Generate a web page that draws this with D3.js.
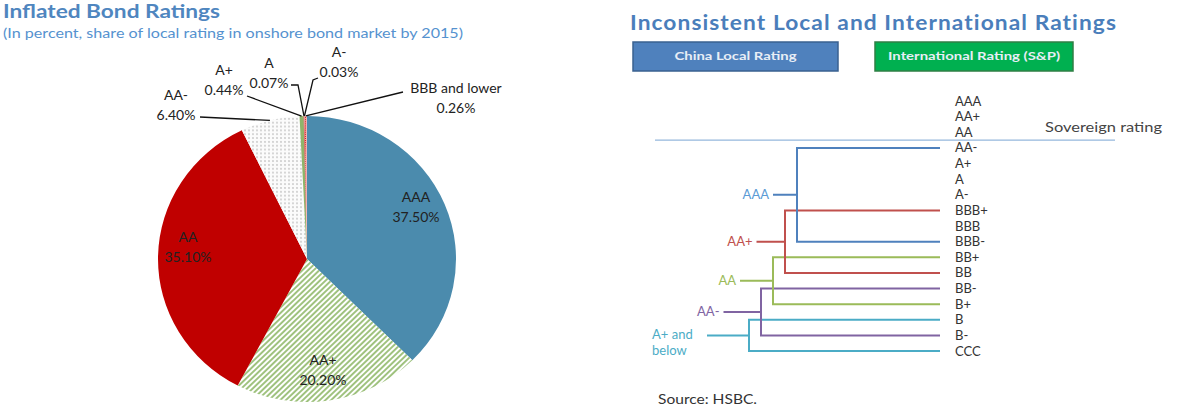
<!DOCTYPE html>
<html lang="en">
<head>
  <meta charset="UTF-8">
  <title>Inflated Bond Ratings / Inconsistent Ratings</title>
  <script src="https://d3js.org/d3.v7.min.js"></script>
  <style>
    body { margin: 0; background: #fff; font-family: Lato, "Open Sans", sans-serif; }
    svg text { font-family: Lato, "Open Sans", sans-serif; }
  </style>
</head>
<body>
  <div id="chart"></div>

  <script>
    // Pie data: share of local rating in onshore bond market (%)
    const pieNames = ['AAA', 'AA+', 'AA', 'AA-', 'A+', 'A', 'A-', 'BBB and lower'];
    const pieValues = [37.5, 20.2, 35.1, 6.4, 0.44, 0.07, 0.03, 0.26];
    const pieLabels = ['37.50%', '20.20%', '35.10%', '6.40%', '0.44%', '0.07%', '0.03%', '0.26%'];

    // Mapping chart data
    const intlRatings = ['AAA', 'AA+', 'AA', 'AA-', 'A+', 'A', 'A-', 'BBB+', 'BBB', 'BBB-',
                         'BB+', 'BB', 'BB-', 'B+', 'B', 'B-', 'CCC'];
    const localRatings = ['AAA', 'AA+', 'AA', 'AA-', 'A+ and below'];
    const mapHigh = ['AA-', 'BBB+', 'BB+', 'BB-', 'B'];
    const mapLow = ['BBB-', 'BB', 'B+', 'B-', 'CCC'];
    const sovereignRating = 'AA';

    const W = 1182, H = 410;
    const svg = d3.select('#chart').append('svg')
      .attr('width', W).attr('height', H);

    const defs = svg.append('defs');
    // diagonal green stripes
    const stripes = defs.append('pattern')
      .attr('id', 'stripes').attr('patternUnits', 'userSpaceOnUse')
      .attr('width', 4).attr('height', 4)
      .attr('patternTransform', 'rotate(45)');
    stripes.append('rect').attr('width', 4).attr('height', 4).attr('fill', '#fff');
    stripes.append('rect').attr('width', 2).attr('height', 4).attr('fill', '#9fc27e');
    // light dotted grid
    const dots = defs.append('pattern')
      .attr('id', 'dots').attr('patternUnits', 'userSpaceOnUse')
      .attr('width', 4).attr('height', 4);
    dots.append('rect').attr('width', 4).attr('height', 4).attr('fill', '#fbfbfb');
    dots.append('circle').attr('cx', 2).attr('cy', 2).attr('r', 0.9).attr('fill', '#c4c4c4');
    // red dots
    const rdots = defs.append('pattern')
      .attr('id', 'rdots').attr('patternUnits', 'userSpaceOnUse')
      .attr('width', 2).attr('height', 2);
    rdots.append('rect').attr('width', 2).attr('height', 2).attr('fill', '#f2b0b0');
    rdots.append('rect').attr('width', 1).attr('height', 1).attr('fill', '#d02020');

    const sliceFill = d3.scaleOrdinal()
      .domain(pieNames)
      .range(['#4b8bad', 'url(#stripes)', '#c00000', 'url(#dots)', '#8fb56a', '#d03030', '#d03030', 'url(#rdots)']);

    // ---------- Left: pie ----------
    svg.append('text')
      .attr('x', 3).attr('y', 18)
      .attr('textLength', 217).attr('lengthAdjust', 'spacingAndGlyphs')
      .style('font-size', '19px').style('font-weight', 'bold')
      .attr('fill', '#4f86bf')
      .text('Inflated Bond Ratings');
    svg.append('text')
      .attr('x', 3).attr('y', 38)
      .attr('textLength', 460).attr('lengthAdjust', 'spacingAndGlyphs')
      .style('font-size', '13.5px')
      .attr('fill', '#5592cf')
      .text('(In percent, share of local rating in onshore bond market by 2015)');

    const cx = 307, cy = 259, r = 149, sy = 0.96;
    const pie = d3.pie().sort(null).value(d => d)(pieValues);
    const arc = d3.arc().innerRadius(0).outerRadius(r);
    const edge = d3.arc().innerRadius(r).outerRadius(r);

    const pg = svg.append('g').attr('transform', `translate(${cx},${cy}) scale(1,${sy})`);
    pg.selectAll('path')
      .data(pie)
      .enter().append('path')
      .attr('d', arc)
      .attr('fill', (d, i) => sliceFill(pieNames[i]));

    const toScreen = p => [cx + p[0], cy + p[1] * sy];

    // label layout (text centres) for each slice
    const labelPos = {
      'AAA': [416, 202, 'in'],
      'AA+': [323, 365, 'in'],
      'AA': [188, 242, 'in'],
      'AA-': [176, 100, 'out', [[200, 117]]],
      'A+': [224, 75, 'out', [[247, 96]]],
      'A': [269, 68, 'out', [[291, 85], [298, 85]]],
      'A-': [339, 57, 'out', [[318, 78], [313, 80]]],
      'BBB and lower': [456, 93, 'out', [[403, 92]]]
    };

    pie.forEach((d, i) => {
      const name = pieNames[i];
      const lp = labelPos[name];
      const t = svg.append('text')
        .attr('x', lp[0]).attr('y', lp[1])
        .attr('text-anchor', 'middle')
        .attr('fill', '#222')
        .style('font-size', '14px');
      t.append('tspan').attr('x', lp[0]).attr('dy', 0).text(name);
      t.append('tspan').attr('x', lp[0]).attr('dy', 20).text(pieLabels[i]);
      if (lp[2] === 'out') {
        const end = toScreen(edge.centroid(d));
        const pts = lp[3].concat([end]);
        svg.append('path')
          .attr('d', d3.line()(pts))
          .attr('fill', 'none')
          .attr('stroke', '#111')
          .attr('stroke-width', 1.3);
      }
    });

    // ---------- Right: rating mapping ----------
    svg.append('text')
      .attr('x', 630).attr('y', 30)
      .attr('textLength', 487).attr('lengthAdjust', 'spacingAndGlyphs')
      .style('font-size', '21px').style('font-weight', 'bold')
      .style('letter-spacing', '1px')
      .attr('fill', '#4a7ebb')
      .text('Inconsistent Local and International Ratings');

    const boxes = [
      { label: 'China Local Rating', x0: 633, x1: 838, fill: '#4f81bd', stroke: '#3a6190', tl: 122 },
      { label: 'International Rating (S&P)', x0: 875, x1: 1073, fill: '#00b050', stroke: '#2f7f44', tl: 172 }
    ];
    boxes.forEach(b => {
      svg.append('rect')
        .attr('x', b.x0).attr('y', 42).attr('width', b.x1 - b.x0).attr('height', 29)
        .attr('fill', b.fill).attr('stroke', b.stroke).attr('stroke-width', 1.5);
      svg.append('text')
        .attr('x', (b.x0 + b.x1) / 2).attr('y', 60)
        .attr('text-anchor', 'middle')
        .attr('textLength', b.tl).attr('lengthAdjust', 'spacingAndGlyphs')
        .style('font-size', '12px').style('font-weight', 'bold')
        .attr('fill', '#e8eef6')
        .text(b.label);
    });

    const y = d3.scalePoint().domain(intlRatings).range([101, 351]);
    const vx = d3.scalePoint().domain(localRatings).range([797, 749]);
    const stubX = d3.scalePoint().domain(localRatings).range([773, 707]);
    const lineEnd = 940;
    const lineColor = d3.scaleOrdinal().domain(localRatings)
      .range(['#4f81bd', '#c0504d', '#9bbb59', '#8064a2', '#4bacc6']);
    const textColor = d3.scaleOrdinal().domain(localRatings)
      .range(['#5b9bd5', '#c0504d', '#9bbb59', '#8064a2', '#4bacc6']);

    // international rating labels
    svg.selectAll('.intl')
      .data(intlRatings)
      .enter().append('text')
      .attr('class', 'intl')
      .attr('x', 955).attr('y', d => y(d))
      .attr('dy', '0.35em')
      .attr('fill', '#333')
      .style('font-size', '13px')
      .text(d => d);

    // sovereign line
    const sovY = y(sovereignRating) + y.step() / 2;
    svg.append('line')
      .attr('x1', 655).attr('x2', 1115)
      .attr('y1', sovY).attr('y2', sovY)
      .attr('stroke', '#95b7dc').attr('stroke-width', 1.2);
    svg.append('text')
      .attr('x', 1045).attr('y', sovY - 8)
      .attr('textLength', 117).attr('lengthAdjust', 'spacingAndGlyphs')
      .attr('fill', '#444')
      .style('font-size', '13px')
      .text('Sovereign rating');

    const order = [4, 3, 2, 1, 0];
    order.forEach(i => {
      const lr = localRatings[i];
      const x = vx(lr);
      const y0 = y(mapHigh[i]), y1 = y(mapLow[i]);
      const ym = (y0 + y1) / 2;
      const col = lineColor(lr);
      const path = d3.path();
      path.moveTo(lineEnd, y0);
      path.lineTo(x, y0);
      path.lineTo(x, y1);
      path.lineTo(lineEnd, y1);
      path.moveTo(stubX(lr), ym);
      path.lineTo(x, ym);
      svg.append('path')
        .attr('d', path.toString())
        .attr('fill', 'none')
        .attr('stroke', col)
        .attr('stroke-width', 2);

      const lines = lr === 'A+ and below' ? ['A+ and', 'below'] : [lr];
      const t = svg.append('text')
        .attr('x', stubX(lr) - 4).attr('y', ym)
        .attr('text-anchor', lines.length > 1 ? 'start' : 'end')
        .attr('fill', textColor(lr))
        .style('font-size', '13px');
      if (lines.length > 1) {
        t.attr('x', 652);
        lines.forEach((s, k) => t.append('tspan').attr('x', 652)
          .attr('dy', k === 0 ? '0.3em' : '1.2em').text(s));
      } else {
        t.attr('dy', '0.35em').text(lines[0]);
      }
    });

    svg.append('text')
      .attr('x', 658).attr('y', 404)
      .attr('textLength', 99).attr('lengthAdjust', 'spacingAndGlyphs')
      .attr('fill', '#333')
      .style('font-size', '13px')
      .text('Source: HSBC.');
  </script>
</body>
</html>
